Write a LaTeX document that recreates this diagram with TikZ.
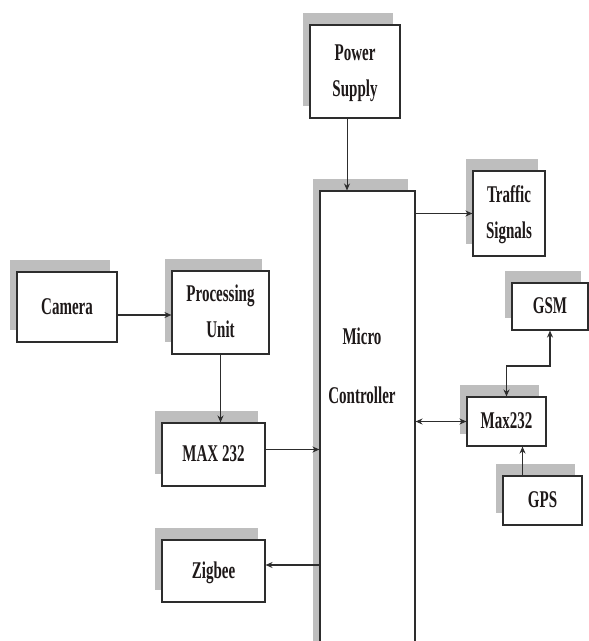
\documentclass[tikz,border=0pt]{standalone}
\usepackage{fontspec}
\setmainfont{Liberation Serif}
\usepackage{graphicx}
\usepackage{tikz}
\usetikzlibrary{arrows,arrows.meta,shapes,positioning,shadows}
\usepackage{xcolor}
\definecolor{bxshade}{RGB}{190,190,190}
\definecolor{bxline}{RGB}{45,45,45}
\definecolor{bxtext}{RGB}{30,25,25}
\newcommand{\boxtext}[1]{\scalebox{1}[1.6]{\begin{tabular}{c}#1\end{tabular}}}
\tikzstyle{arrow} = [line width=1.3pt,->,>={Stealth[length=7pt,width=6pt]},color=bxline]
\tikzstyle{block} = [rectangle, minimum width=90pt, minimum height=60pt, inner sep=0pt, text centered, draw=bxline, fill=white, line width=1.1pt, text=bxtext, font=\fontsize{15}{22}\selectfont\bfseries, drop shadow={shadow xshift=-7pt, shadow yshift=12pt, fill=bxshade, opacity=1}]

\begin{document}
\begin{tikzpicture}[x=1pt, y=-1pt]
\useasboundingbox (0,0) rectangle (589,641);
\clip (0,0) rectangle (589,641);

% Controller in the middle
\node (mc) [block, minimum width=95pt, minimum height=500pt] at (367.5,441) {};
\node (mctext) [text=bxtext, font=\fontsize{15}{22}\selectfont\bfseries] at (362,367) {\boxtext{Micro\\[15pt]Controller}};

% Top row
\node (power) [block, minimum width=90pt, minimum height=93pt] at (355,71.5) {\boxtext{Power\\Supply}};
\node (traffic) [block, minimum width=72pt, minimum height=85pt] at (509,213.5) {\boxtext{Traffic\\Signals}};

% Left side
\node (camera) [block, minimum width=100pt, minimum height=70pt] at (67,307) {\boxtext{Camera}};
\node (proc) [block, minimum width=97pt, minimum height=83pt] at (220.5,312.5) {\boxtext{Processing\\Unit}};
\node (max) [block, minimum width=103pt, minimum height=63pt] at (213.5,454.5) {\boxtext{MAX 232}};
\node (zigbee) [block, minimum width=103pt, minimum height=62pt] at (213.5,571) {\boxtext{Zigbee}};

% Right side
\node (gsm) [block, minimum width=76pt, minimum height=47pt] at (550,306.5) {\boxtext{GSM}};
\node (maxr) [block, minimum width=79pt, minimum height=49pt] at (506.5,421.5) {\boxtext{Max232}};
\node (gps) [block, minimum width=79pt, minimum height=49pt] at (542.5,500.5) {\boxtext{GPS}};
\coordinate (bend) at (530,366);

\draw[arrow, line width=0.9pt] ([xshift=-8pt]power.south) -- ([xshift=-8pt]power.south |- mc.north);
\draw[arrow] (mc.east |- traffic.west) -- (traffic.west);
\draw[arrow] ([yshift=-8pt]camera.east) -- ([yshift=-8pt]camera.east -| proc.west);
\draw[arrow, line width=0.9pt] (proc.south) -- (proc.south |- max.north);
\draw[arrow] ([yshift=5pt]max.east) -- ([yshift=5pt]max.east -| mc.west);
\draw[arrow] ([yshift=6pt]mc.west |- zigbee.east) -- ([yshift=6pt]zigbee.east);
\draw[arrow,<->] (mc.east |- maxr.west) -- (maxr.west);
\draw[arrow,<->] (maxr.north) |- (bend) -| (gsm.south);
\draw[arrow] ([xshift=-20pt]gps.north) -- ([xshift=-20pt]gps.north |- maxr.south);
\end{tikzpicture}
\end{document}
